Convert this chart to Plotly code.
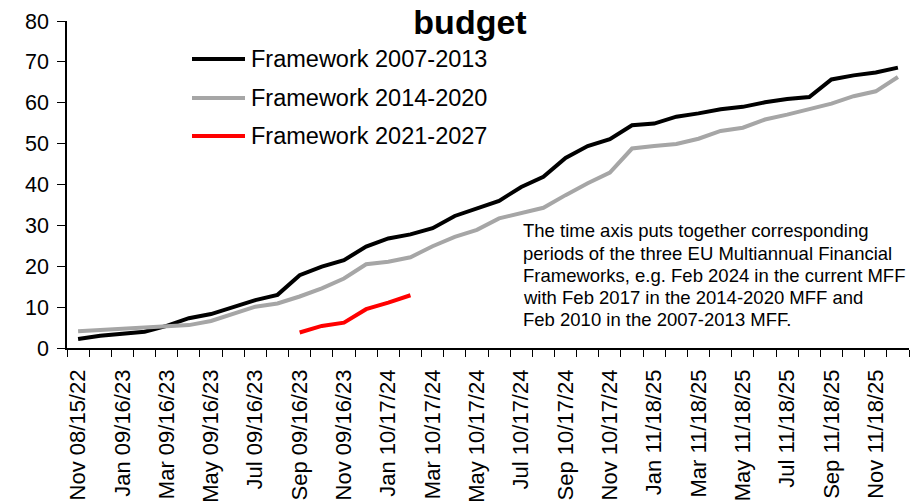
import plotly.graph_objects as go

# Month labels shared by the three aligned MFF periods
months = [
    "Nov 08/15/22", "Dec 08/15/22",
    "Jan 09/16/23", "Feb 09/16/23", "Mar 09/16/23", "Apr 09/16/23",
    "May 09/16/23", "Jun 09/16/23", "Jul 09/16/23", "Aug 09/16/23",
    "Sep 09/16/23", "Oct 09/16/23", "Nov 09/16/23", "Dec 09/16/23",
    "Jan 10/17/24", "Feb 10/17/24", "Mar 10/17/24", "Apr 10/17/24",
    "May 10/17/24", "Jun 10/17/24", "Jul 10/17/24", "Aug 10/17/24",
    "Sep 10/17/24", "Oct 10/17/24", "Nov 10/17/24", "Dec 10/17/24",
    "Jan 11/18/25", "Feb 11/18/25", "Mar 11/18/25", "Apr 11/18/25",
    "May 11/18/25", "Jun 11/18/25", "Jul 11/18/25", "Aug 11/18/25",
    "Sep 11/18/25", "Oct 11/18/25", "Nov 11/18/25", "Dec 11/18/25",
]

framework_2007_2013 = [
    2.2, 3.0, 3.5, 4.0, 5.4, 7.3, 8.3, 10.1, 11.7, 13.0,
    17.8, 19.9, 21.5, 24.8, 26.8, 27.8, 29.3, 32.3, 34.2, 36.0,
    39.4, 41.9, 46.5, 49.4, 51.1, 54.5, 54.9, 56.6, 57.4, 58.4,
    59.0, 60.1, 60.9, 61.4, 65.7, 66.7, 67.4, 68.6,
]
framework_2014_2020 = [
    4.1, 4.4, 4.7, 4.9, 5.1, 5.6, 6.6, 8.3, 10.1, 10.9,
    12.6, 14.6, 17.0, 20.5, 21.1, 22.2, 24.9, 27.2, 28.9, 31.7,
    33.0, 34.3, 37.4, 40.3, 42.9, 48.8, 49.4, 49.9, 51.2, 53.1,
    53.9, 55.9, 57.1, 58.4, 59.8, 61.6, 62.8, 66.3,
]
# current framework: Sep 2023 slot onwards, still in progress
framework_2021_2027 = [3.8, 5.4, 6.2, 9.5, 11.1, 12.9]
current_start = months.index("Sep 09/16/23")

series_names = ["Framework 2007-2013", "Framework 2014-2020", "Framework 2021-2027"]
series_colors = ["#000000", "#A6A6A6", "#FF0000"]

note_lines = [
    "The time axis puts together corresponding",
    "periods of the three EU Multiannual Financial",
    "Frameworks, e.g. Feb 2024 in the current MFF",
    "with Feb 2017 in the 2014-2020 MFF and",
    "Feb 2010 in the 2007-2013 MFF.",
]

FONT = "Liberation Sans, Arial, sans-serif"
pos = list(range(len(months)))

fig = go.Figure()
fig.add_trace(go.Scatter(x=pos, y=framework_2007_2013, mode="lines",
                         name=series_names[0],
                         line=dict(color=series_colors[0], width=4)))
fig.add_trace(go.Scatter(x=pos, y=framework_2014_2020, mode="lines",
                         name=series_names[1],
                         line=dict(color=series_colors[1], width=4)))
fig.add_trace(go.Scatter(x=pos[current_start:current_start + len(framework_2021_2027)],
                         y=framework_2021_2027, mode="lines",
                         name=series_names[2],
                         line=dict(color=series_colors[2], width=4)))

# Hand-placed legend: long line swatches followed by labels
W, H = 910, 504
L, R, T, B = 67, 1, 21, 156
pw, ph = W - L - R, H - T - B


def px_x(p):
    return (p - L) / pw


def px_y(p):
    return (H - B - p) / ph


legend_rows = [59, 98, 136]
shapes = []
annotations = []
for name, color, row in zip(series_names, series_colors, legend_rows):
    shapes.append(dict(type="line", xref="paper", yref="paper",
                       x0=px_x(192), x1=px_x(245), y0=px_y(row), y1=px_y(row),
                       line=dict(color=color, width=4)))
    annotations.append(dict(xref="paper", yref="paper", x=px_x(249), y=px_y(row),
                            xanchor="left", yanchor="middle", showarrow=False,
                            text=name, font=dict(family=FONT, size=23.5, color="#000000")))

for k, line in enumerate(note_lines):
    annotations.append(dict(xref="paper", yref="paper", x=px_x(521), y=px_y(231 + 22 * k),
                            xanchor="left", yanchor="middle", showarrow=False,
                            text=line, font=dict(family=FONT, size=18.5, color="#000000")))

fig.update_layout(
    width=W, height=H,
    margin=dict(l=L, r=R, t=T, b=B),
    paper_bgcolor="white", plot_bgcolor="white",
    showlegend=False,
    title=dict(text="<b>budget</b>", x=470 / W, xanchor="center",
               y=1 - 22 / H, yanchor="middle",
               font=dict(family=FONT, size=34, color="#000000")),
    font=dict(family=FONT, color="#000000"),
    shapes=shapes,
    annotations=annotations,
)

fig.update_xaxes(
    range=[-0.5, len(months) - 0.5],
    tickmode="array", tickvals=pos[::2], ticktext=months[::2],
    tickangle=-90, ticks="", ticklabelstandoff=11,
    tickfont=dict(family=FONT, size=22, color="#000000"),
    showline=True, linecolor="#000000", linewidth=1.5,
    showgrid=False, zeroline=False,
    minor=dict(tick0=-0.5, dtick=1, ticks="outside", ticklen=7,
               tickcolor="#000000", tickwidth=1, showgrid=False),
)
fig.update_yaxes(
    range=[0, 80], dtick=10, tick0=0,
    ticks="outside", ticklen=8, tickcolor="#000000", tickwidth=1,
    ticklabelstandoff=4,
    tickfont=dict(family=FONT, size=21.5, color="#000000"),
    showline=True, linecolor="#000000", linewidth=1.5,
    showgrid=False, zeroline=False,
)

fig.write_html("out.html")
